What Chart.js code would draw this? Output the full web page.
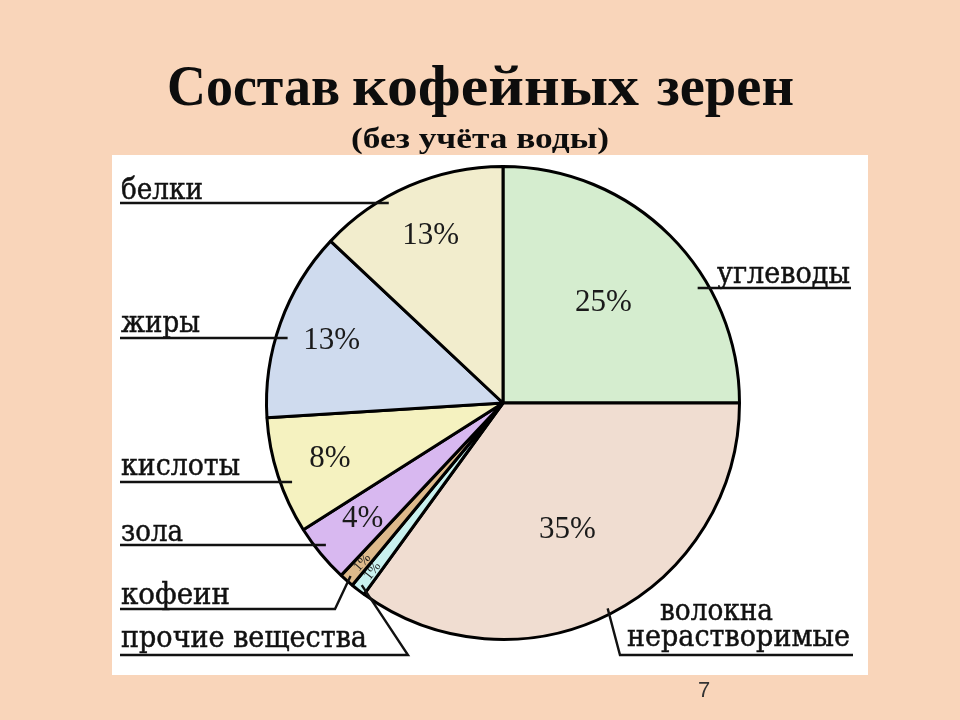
<!DOCTYPE html>
<html><head><meta charset="utf-8">
<script src="https://cdn.jsdelivr.net/npm/chart.js@4.4.0/dist/chart.umd.min.js"></script>
<style>html,body{margin:0;padding:0;background:#F9D5BA;}canvas{display:block;}</style>
</head><body>
<canvas id="c" width="960" height="720"></canvas>
<script>
// ---- data ----
const categories = ['углеводы', 'волокна нерастворимые', 'прочие вещества', 'кофеин', 'зола', 'кислоты', 'жиры', 'белки'];
const shares = [25, 35, 1, 1, 4, 8, 13, 13];
const sliceColors = ['#D5EDCF', '#F0DDD1', '#C8F1EF', '#DDB98B', '#D8B8F0', '#F5F2C0', '#CFDBEE', '#F2EDCD'];
const titleText = 'Состав кофейных зерен';
const subtitleText = '(без учёта воды)';
const pageNumber = '7';

// ---- layout (positions/sizes only) ----
const titleWordBoxes = [[167, 340], [352, 639], [657, 794]];
const labelLayout = [
  {side: 1,  textX: [717], baseY: [283], widths: [133], lineY: 288, outerX: 851, elbowX: null},
  {side: 1,  textX: [660, 627], baseY: [620, 646], widths: [113, 223], lineY: 655, outerX: 853, elbowX: 620, wrap: true},
  {side: -1, textX: [121], baseY: [647], widths: [246], lineY: 655, outerX: 120, elbowX: 408},
  {side: -1, textX: [121], baseY: [604], widths: [109], lineY: 609, outerX: 120, elbowX: 335},
  {side: -1, textX: [121], baseY: [541], widths: [62], lineY: 545, outerX: 120, elbowX: null},
  {side: -1, textX: [121], baseY: [475], widths: [119], lineY: 482, outerX: 120, elbowX: null},
  {side: -1, textX: [121], baseY: [332], widths: [79], lineY: 338, outerX: 120, elbowX: null},
  {side: -1, textX: [121], baseY: [199], widths: [82], lineY: 203, outerX: 120, elbowX: null}
];

function fitText(ctx, text, x, y, font, width, align, thicken) {
  ctx.save();
  ctx.font = font;
  ctx.textAlign = align;
  ctx.textBaseline = 'alphabetic';
  const w = ctx.measureText(text).width;
  const s = width ? width / w : 1;
  ctx.translate(x, y);
  ctx.scale(s, 1);
  ctx.fillText(text, 0, 0);
  if (thicken) {
    ctx.lineWidth = thicken;
    ctx.strokeStyle = ctx.fillStyle;
    ctx.strokeText(text, 0, 0);
  }
  ctx.restore();
}

const backdrop = {
  id: 'backdrop',
  beforeDraw(chart) {
    const ctx = chart.ctx;
    ctx.save();
    ctx.fillStyle = '#F9D5BA';
    ctx.fillRect(0, 0, chart.width, chart.height);
    ctx.fillStyle = '#FFFFFF';
    ctx.fillRect(112, 155, 756, 520);
    ctx.fillStyle = '#0d0d0d';
    titleText.split(' ').forEach((wd, k) => {
      const [a, b] = titleWordBoxes[k];
      fitText(ctx, wd, a, 105, 'bold 58px "Liberation Serif"', b - a, 'left');
    });
    fitText(ctx, subtitleText, 480, 148, 'bold 29px "Liberation Serif"', 258, 'center');
    ctx.fillStyle = '#333333';
    ctx.font = '22px "Liberation Sans"';
    ctx.textAlign = 'center';
    ctx.fillText(pageNumber, 704, 697);
    ctx.restore();
  }
};

const annotate = {
  id: 'annotate',
  afterDatasetsDraw(chart) {
    const ctx = chart.ctx;
    const arcs = chart.getDatasetMeta(0).data;
    ctx.save();
    arcs.forEach((arc, i) => {
      const {x: cx, y: cy, startAngle, endAngle, outerRadius: R} = arc.getProps(['x', 'y', 'startAngle', 'endAngle', 'outerRadius'], true);
      const mid = (startAngle + endAngle) / 2;
      const v = shares[i];
      // percentage label
      const frac = v >= 20 ? 0.6 : (v >= 4 ? 0.77 : 0.9);
      const px = cx + Math.cos(mid) * R * frac;
      const py = cy + Math.sin(mid) * R * frac;
      ctx.fillStyle = '#1a1a1a';
      ctx.textAlign = 'center';
      ctx.textBaseline = 'middle';
      if (v < 3) {
        ctx.save();
        ctx.translate(px, py);
        ctx.rotate(mid - Math.PI);
        ctx.font = '14px "Liberation Serif"';
        ctx.fillText(v + '%', 0, 0);
        ctx.restore();
      } else {
        ctx.font = '31px "Liberation Serif"';
        ctx.fillText(v + '%', px, py);
      }
      // category label
      const L = labelLayout[i];
      const lines = L.wrap ? categories[i].split(' ') : [categories[i]];
      ctx.fillStyle = '#111111';
      lines.forEach((t, k) => fitText(ctx, t, L.textX[k], L.baseY[k], '30px "DejaVu Serif"', L.widths[k], 'left', 0.5));
      // leader line
      ctx.strokeStyle = '#111111';
      ctx.lineWidth = 2.4;
      ctx.beginPath();
      ctx.moveTo(L.outerX, L.lineY);
      if (L.elbowX === null) {
        const dy = L.lineY - cy;
        const dx = Math.sqrt(Math.max(R * R - dy * dy, 0)) * L.side;
        ctx.lineTo(cx + dx - L.side * 12, L.lineY);
      } else {
        ctx.lineTo(L.elbowX, L.lineY);
        ctx.lineTo(cx + Math.cos(mid) * (R - 6), cy + Math.sin(mid) * (R - 6));
      }
      ctx.stroke();
    });
    ctx.restore();
  }
};

new Chart(document.getElementById('c'), {
  type: 'pie',
  data: {
    labels: categories,
    datasets: [{
      data: shares,
      backgroundColor: sliceColors,
      borderColor: '#000000',
      borderWidth: 3
    }]
  },
  options: {
    responsive: false,
    animation: false,
    devicePixelRatio: 1,
    events: [],
    layout: {padding: {left: 265, right: 219, top: 164, bottom: 78}},
    plugins: {legend: {display: false}, tooltip: {enabled: false}, title: {display: false}}
  },
  plugins: [backdrop, annotate]
});
</script>
</body></html>
